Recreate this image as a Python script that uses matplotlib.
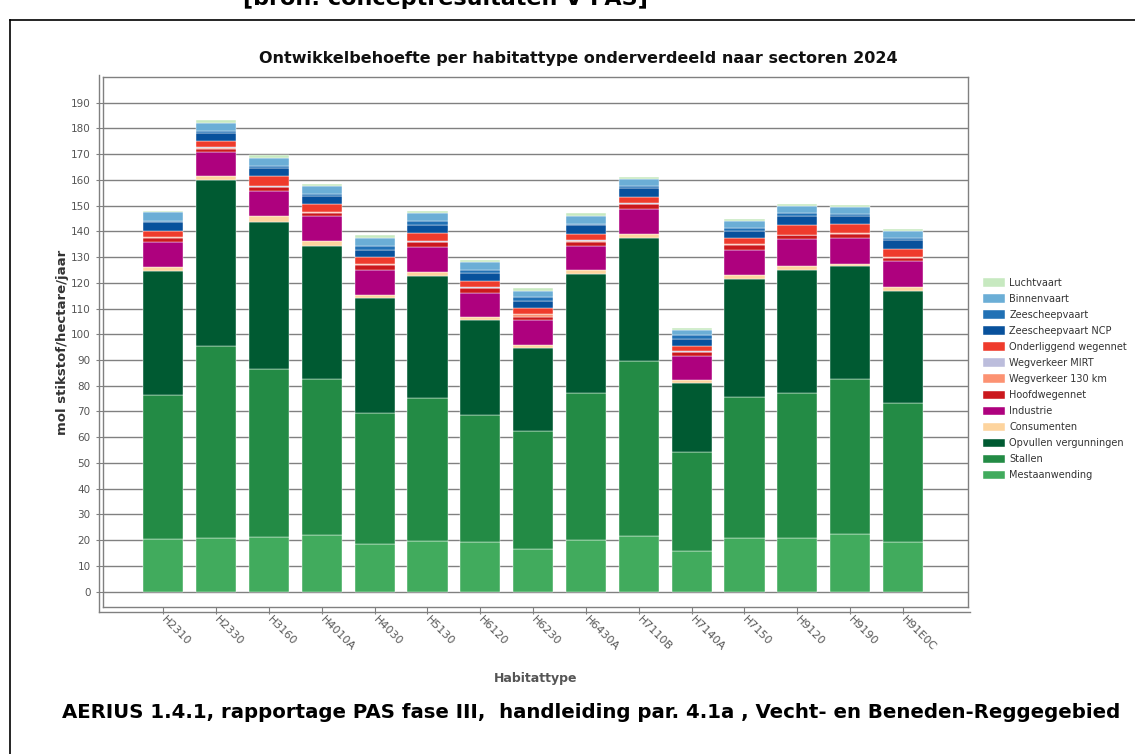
#Import Libraries
import numpy as np
import matplotlib
matplotlib.use('Agg')
import matplotlib.pyplot as plt
from matplotlib.lines import Line2D

#Data
habitats = ['H2310', 'H2330', 'H3160', 'H4010A', 'H4030', 'H5130', 'H6120', 'H6230',
            'H6430A', 'H7110B', 'H7140A', 'H7150', 'H9120', 'H9190', 'H91E0C']

mestaanwending = [20.5, 20.9, 21.4, 21.8, 18.5, 19.8, 19.2, 16.7, 19.9, 21.6, 15.9, 20.9, 20.9, 22.5, 19.4]
stallen = [55.9, 74.7, 65.1, 60.8, 51.0, 55.4, 49.6, 45.7, 57.3, 68.1, 38.2, 54.9, 56.4, 60.3, 54.0]
opvullen = [48.2, 64.2, 57.2, 51.9, 44.6, 47.6, 36.6, 32.3, 46.1, 47.9, 27.0, 45.8, 47.8, 43.6, 43.3]
consumenten = [1.5, 1.7, 2.2, 1.7, 1.3, 1.5, 1.3, 1.0, 1.7, 1.4, 1.3, 1.3, 1.6, 1.0, 1.7]
industrie = [9.8, 9.3, 9.9, 9.8, 9.6, 9.6, 9.3, 9.7, 9.4, 9.8, 9.0, 10.0, 10.2, 10.0, 9.9]
hoofdwegennet = [1.6, 1.4, 1.3, 1.3, 1.9, 1.8, 1.8, 1.5, 1.6, 1.7, 1.6, 1.7, 1.5, 1.6, 1.5]
wegverkeer_130 = [0.3, 0.3, 0.3, 0.2, 0.3, 0.3, 0.3, 0.8, 0.3, 0.3, 0.2, 0.5, 0.2, 0.2, 0.2]
wegverkeer_mirt = [0.1, 0.1, 0.1, 0.1, 0.1, 0.1, 0.1, 0.2, 0.2, 0.1, 0.2, 0.1, 0.1, 0.1, 0.1]
onderliggend = [2.3, 2.7, 4.0, 2.9, 2.7, 3.3, 2.7, 2.3, 2.5, 2.4, 2.2, 2.2, 3.9, 3.4, 3.0]
zee_ncp = [3.3, 2.9, 3.3, 3.1, 2.9, 2.9, 2.9, 2.6, 3.3, 3.4, 2.7, 2.6, 3.2, 3.1, 3.4]
zeescheepvaart = [0.6, 1.0, 0.7, 1.0, 1.3, 1.6, 1.3, 1.5, 0.7, 0.8, 1.5, 1.2, 1.2, 0.9, 0.8]
binnenvaart = [3.3, 3.1, 3.0, 2.9, 3.2, 3.2, 3.1, 2.5, 3.1, 2.7, 1.7, 2.7, 2.7, 2.7, 2.7]
luchtvaart = [0.7, 0.9, 1.1, 0.9, 1.2, 1.0, 0.8, 1.2, 1.0, 0.9, 0.9, 1.0, 0.9, 0.9, 1.0]

#Sectors from bottom to top
sectors = [
    ('Mestaanwending', mestaanwending, '#41ab5d'),
    ('Stallen', stallen, '#238b45'),
    ('Opvullen vergunningen', opvullen, '#005a32'),
    ('Consumenten', consumenten, '#fdd49e'),
    ('Industrie', industrie, '#ae017e'),
    ('Hoofdwegennet', hoofdwegennet, '#cb181d'),
    ('Wegverkeer 130 km', wegverkeer_130, '#fc9272'),
    ('Wegverkeer MIRT', wegverkeer_mirt, '#bcbddc'),
    ('Onderliggend wegennet', onderliggend, '#ef3b2c'),
    ('Zeescheepvaart NCP', zee_ncp, '#08519c'),
    ('Zeescheepvaart', zeescheepvaart, '#2171b5'),
    ('Binnenvaart', binnenvaart, '#6baed6'),
    ('Luchtvaart', luchtvaart, '#c7e9c0'),
]

#Figure
fig = plt.figure(figsize=(11.35, 7.54), dpi=100)
W, H = 1135.0, 754.0
ax = fig.add_axes([103 / W, 1 - 607 / H, (968 - 103) / W, (607 - 77) / H])

x = np.arange(len(habitats))
bottom = np.zeros(len(habitats))
handles = []
for name, vals, col in sectors:
    b = ax.bar(x, vals, width=0.76, bottom=bottom, color=col, edgecolor='white',
               linewidth=0.3, label=name, zorder=3)
    bottom += np.array(vals)
    handles.append(b)

#Axes styling
ax.set_ylim(-6, 200)
ax.set_xlim(-1.14, 15.23)
ax.set_yticks(np.arange(0, 200, 10))
ax.yaxis.grid(True, color='#808080', linewidth=1.0, zorder=0)
ax.set_axisbelow(True)
for s in ax.spines.values():
    s.set_color('#808080')
    s.set_linewidth(1.0)
ax.tick_params(axis='y', colors='#808080', labelcolor='#555555', labelsize=7.5, length=5, pad=4)
ax.tick_params(axis='x', colors='#808080', labelcolor='#555555', labelsize=8, length=5, pad=3)
ax.set_xticks(x)
ax.set_xticklabels(habitats, rotation=-45, ha='left', va='center', rotation_mode='anchor')
ax.set_xlabel('Habitattype', fontsize=9, fontweight='bold', color='#555555', labelpad=14)
ax.set_ylabel('mol stikstof/hectare/jaar', fontsize=9.5, fontweight='bold', color='#333333', labelpad=1)

#Outer double frame
fig.add_artist(Line2D([99 / W, 99 / W], [1 - 612 / H, 1 - 75 / H], color='#808080', lw=1))
fig.add_artist(Line2D([99 / W, 970 / W], [1 - 612 / H, 1 - 612 / H], color='#808080', lw=1))

#Legend (top to bottom)
leg = fig.legend(handles[::-1], [s[0] for s in sectors][::-1], loc='upper left',
                 bbox_to_anchor=(983 / W, 1 - 278 / H), frameon=False, fontsize=7,
                 handlelength=2.3, handleheight=1.0, handletextpad=0.4, labelspacing=0.62,
                 borderpad=0, borderaxespad=0)
for t in leg.get_texts():
    t.set_color('#333333')

#Titles and texts
fig.text(578 / W, 1 - 58 / H, 'Ontwikkelbehoefte per habitattype onderverdeeld naar sectoren 2024',
         ha='center', va='center', fontsize=11.5, fontweight='bold', color='#111111')
fig.text(445 / W, 1 - 5 / H, '[bron: conceptresultaten V PAS]', ha='center', va='baseline',
         fontsize=16, fontweight='bold', color='black')
fig.text(62 / W, 1 - 712 / H,
         'AERIUS 1.4.1, rapportage PAS fase III,  handleiding par. 4.1a , Vecht- en Beneden-Reggegebied',
         ha='left', va='center', fontsize=14.2, fontweight='bold', color='black')

#Page frame
fig.add_artist(Line2D([10 / W, 1.0], [1 - 20 / H, 1 - 20 / H], color='black', lw=1.2))
fig.add_artist(Line2D([10 / W, 10 / W], [0, 1 - 20 / H], color='black', lw=1.2))

plt.savefig('out.png', dpi=100)
